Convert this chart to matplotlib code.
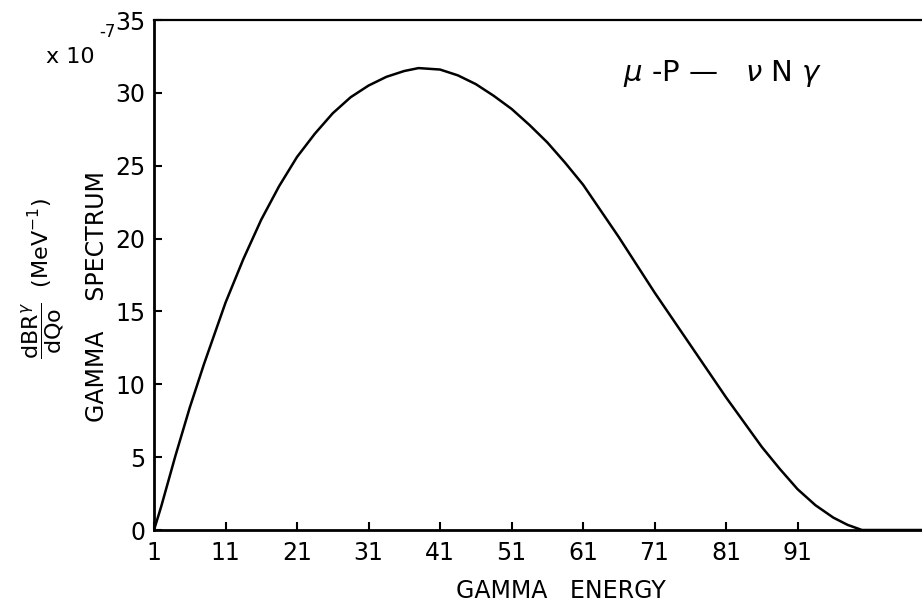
import matplotlib
matplotlib.use("Agg")
import matplotlib.pyplot as plt

# Data (x in "GAMMA ENERGY" units, y in units of 1e-7 MeV^-1)
energy = [1, 2, 4, 6, 8, 11, 13.5, 16, 18.5, 21, 23.5, 26, 28.5, 31, 33.5, 36, 38,
          41, 43.5, 46, 48.5, 51, 53.5, 56, 58.5, 61, 63.5, 66, 68.5, 71, 73.5,
          76, 78.5, 81, 83.5, 86, 88.5, 91, 93.5, 96, 98, 100, 104, 108.4]
spectrum = [0, 1.6, 5.1, 8.4, 11.4, 15.6, 18.6, 21.3, 23.6, 25.6, 27.2, 28.6, 29.7,
            30.5, 31.1, 31.5, 31.7, 31.6, 31.2, 30.6, 29.8, 28.9, 27.8, 26.6, 25.2,
            23.7, 21.9, 20.1, 18.2, 16.3, 14.5, 12.7, 10.9, 9.1, 7.4, 5.7, 4.2,
            2.8, 1.7, 0.85, 0.35, 0.0, 0.0, 0.0]

xticks = [1, 11, 21, 31, 41, 51, 61, 71, 81, 91]
xtick_labels = ["1", "11", "21", "31", "41", "51", "61", "71", "81", "91"]
yticks = [0, 5, 10, 15, 20, 25, 30, 35]
ytick_labels = ["0", "5", "10", "15", "20", "25", "30", "35"]

fig = plt.figure(figsize=(9.22, 6.03), dpi=100)
ax = fig.add_axes([154 / 922, 73 / 603, 768 / 922, 510 / 603])

ax.plot(energy, spectrum, color="black", linewidth=1.8, solid_capstyle="round",
        solid_joinstyle="round")

ax.set_xlim(1, 108.4)
ax.set_ylim(0, 35)
ax.set_xticks(xticks)
ax.set_xticklabels(xtick_labels)
ax.set_yticks(yticks)
ax.set_yticklabels(ytick_labels)

ax.spines["right"].set_visible(False)
for s in ["left", "bottom"]:
    ax.spines[s].set_linewidth(2.0)
ax.spines["top"].set_linewidth(1.6)

ax.tick_params(axis="both", direction="in", length=6, width=1.5, labelsize=17,
               color="black")
ax.tick_params(axis="x", pad=8)
ax.tick_params(axis="y", pad=6)

ax.set_xlabel("GAMMA   ENERGY", fontsize=17, labelpad=10, x=0.53)

# y-axis labels
fig.text(97 / 922, 1 - 297 / 603, "GAMMA    SPECTRUM", rotation=90, fontsize=17,
         ha="center", va="center")
fig.text(43 / 922, 1 - 278 / 603,
         r"$\dfrac{\mathrm{dBR}^{\gamma}}{\mathrm{dQo}}$  (MeV$^{-1}$)",
         rotation=90, fontsize=16, ha="center", va="center")

# multiplier
fig.text(46 / 922, 1 - 63 / 603, "x 10", fontsize=16, ha="left", va="baseline")
fig.text(99 / 922, 1 - 37 / 603, "-7", fontsize=12, ha="left", va="baseline")

# reaction annotation
ax.text(0.741, 0.895, r"$\mu$ -P —   $\nu$ N $\gamma$", transform=ax.transAxes,
        fontsize=21, ha="center", va="center")

fig.savefig("out.png", dpi=100)
